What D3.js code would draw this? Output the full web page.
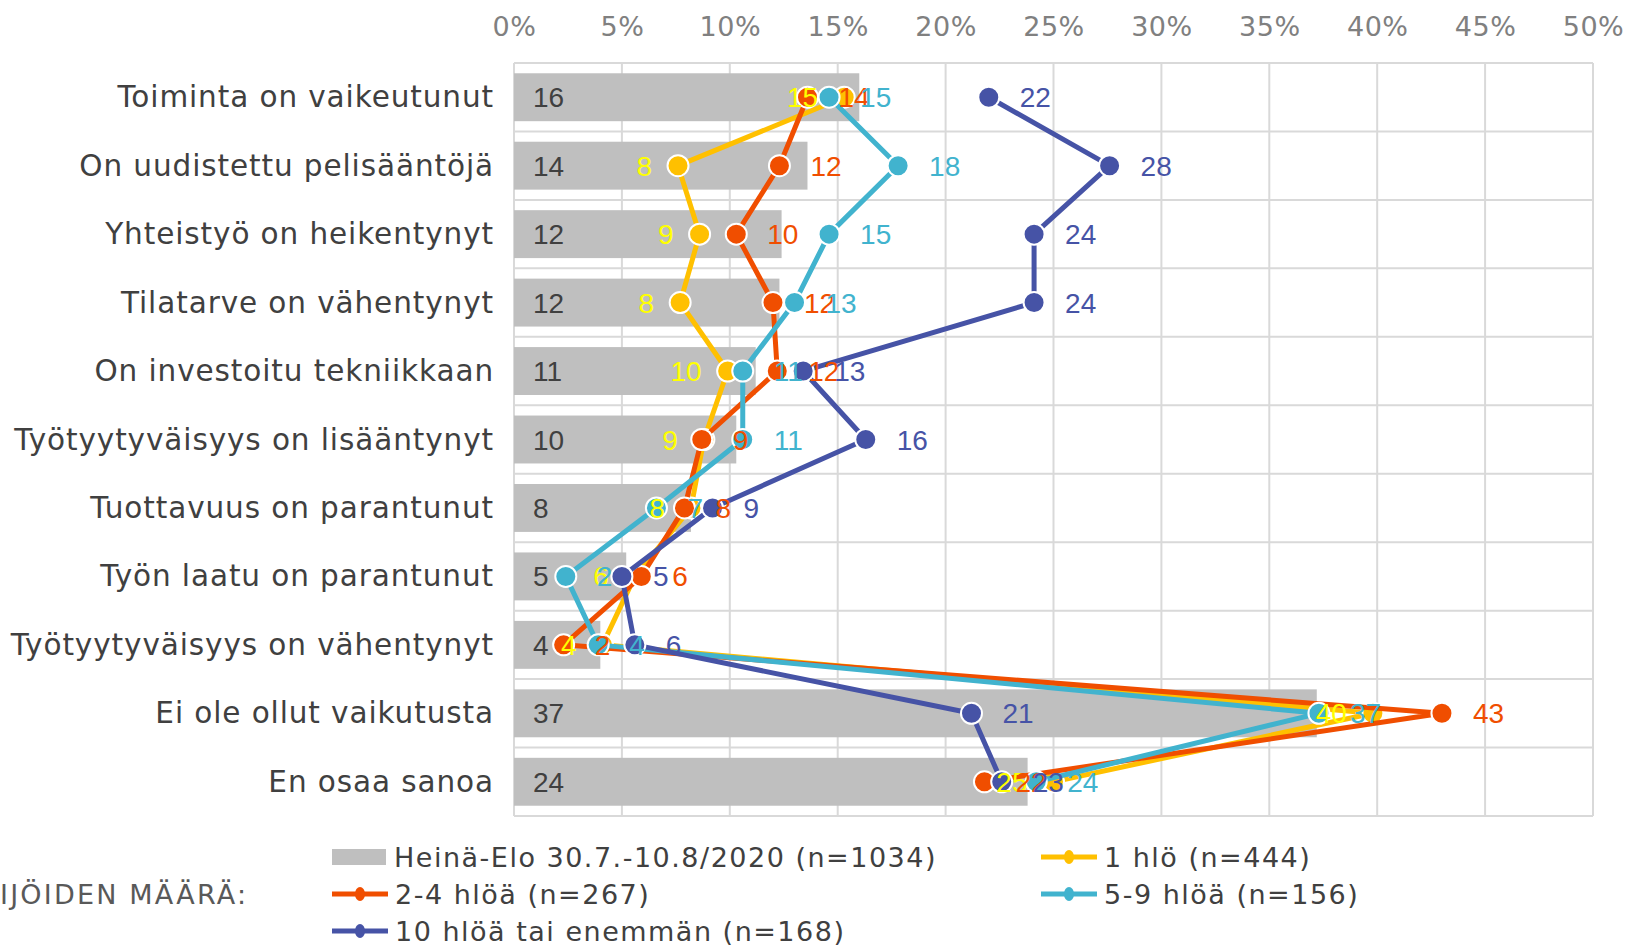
<!DOCTYPE html>
<html><head><meta charset="utf-8">
<script src="https://cdn.jsdelivr.net/npm/d3@7"></script>
<style>
html,body{margin:0;padding:0;background:#fff;overflow:hidden}
svg{display:block}
</style></head>
<body>
<script>
const categories = [
  "Toiminta on vaikeutunut",
  "On uudistettu pelisääntöjä",
  "Yhteistyö on heikentynyt",
  "Tilatarve on vähentynyt",
  "On investoitu tekniikkaan",
  "Työtyytyväisyys on lisääntynyt",
  "Tuottavuus on parantunut",
  "Työn laatu on parantunut",
  "Työtyytyväisyys on vähentynyt",
  "Ei ole ollut vaikutusta",
  "En osaa sanoa"
];
const barValues   = [16.0, 13.6, 12.4, 12.3, 11.2, 10.3, 8.2, 5.2, 4.0, 37.2, 23.8];
const oneValues   = [15.3, 7.6, 8.6, 7.7, 9.9, 8.8, 8.2, 5.6, 4.1, 39.8, 25.0];
const twoValues   = [13.6, 12.3, 10.3, 12.0, 12.2, 8.7, 7.9, 5.9, 2.3, 43.0, 21.8];
const fiveValues  = [14.6, 17.8, 14.6, 13.0, 10.6, 10.6, 6.6, 2.4, 3.9, 37.3, 24.2];
const tenValues   = [22.0, 27.6, 24.1, 24.1, 13.4, 16.3, 9.2, 5.0, 5.6, 21.2, 22.6];
const tickValues  = [0, 5, 10, 15, 20, 25, 30, 35, 40, 45, 50];

const barName = "Heinä-Elo 30.7.-10.8/2020 (n=1034)";
const seriesNames = ["1 hlö (n=444)", "2-4 hlöä (n=267)", "5-9 hlöä (n=156)", "10 hlöä tai enemmän (n=168)"];
const seriesValues = [oneValues, twoValues, fiveValues, tenValues];
const seriesColors = ["#FFC000", "#F04E00", "#41B3CE", "#4653A6"];
const labelColors  = ["#FFFF00", "#F04E00", "#41B3CE", "#4653A6"];
const labelLeft    = [true, false, false, false];

const W = 1627, H = 947;
const svg = d3.select("body").append("svg").attr("width", W).attr("height", H);

const x = d3.scaleLinear().domain([0, 50]).range([514, 1593]);
const y = d3.scaleBand().domain(categories).range([63, 816]).paddingInner(0.3).paddingOuter(0.15);
const cy = c => y(c) + y.bandwidth() / 2;
const step = y.step();

// grid
const grid = svg.append("g");
grid.selectAll("line.v").data(tickValues).join("line")
  .attr("x1", d => x(d)).attr("x2", d => x(d))
  .attr("y1", 63).attr("y2", 816)
  .attr("stroke", "#D9D9D9").attr("stroke-width", 2);
const hLines = d3.range(categories.length + 1).map(i => 63 + i * step);
grid.selectAll("line.h").data(hLines).join("line")
  .attr("x1", x(0)).attr("x2", x(50))
  .attr("y1", d => d).attr("y2", d => d)
  .attr("stroke", "#D9D9D9").attr("stroke-width", 2);

// top axis labels
const axis = d3.axisTop(x).tickValues(tickValues).tickFormat(d => d + "%").tickSize(0).tickPadding(27);
const ag = svg.append("g").attr("transform", "translate(0,63)").call(axis);
ag.select(".domain").remove();
ag.selectAll("text").attr("fill", "#808080").attr("font-family", "DejaVu Sans").attr("font-size", 27)
  .attr("letter-spacing", 0.5);

// category labels
svg.append("g").selectAll("text").data(categories).join("text")
  .attr("x", 494).attr("y", d => cy(d) + 10)
  .attr("text-anchor", "end")
  .attr("font-family", "DejaVu Sans").attr("font-size", 29.5).attr("letter-spacing", 0.9)
  .attr("fill", "#404040")
  .text(d => d);

// bars
svg.append("g").selectAll("rect").data(categories).join("rect")
  .attr("x", x(0)).attr("y", d => y(d))
  .attr("width", (d, i) => x(barValues[i]) - x(0))
  .attr("height", y.bandwidth())
  .attr("fill", "#BFBFBF");
svg.append("g").selectAll("text").data(categories).join("text")
  .attr("x", x(0) + 19).attr("y", d => cy(d) + 10)
  .attr("font-family", "Liberation Sans, Arial").attr("font-size", 28).attr("fill", "#404040")
  .text((d, i) => Math.round(barValues[i]));

// lines & markers
const line = d3.line().x(d => x(d.v)).y(d => cy(d.c));
seriesValues.forEach((vals, s) => {
  const pts = categories.map((c, i) => ({c, v: vals[i]}));
  const g = svg.append("g");
  g.append("path").datum(pts).attr("d", line)
    .attr("fill", "none").attr("stroke", seriesColors[s]).attr("stroke-width", 5)
    .attr("stroke-linejoin", "round");
  g.selectAll("circle").data(pts).join("circle")
    .attr("cx", d => x(d.v)).attr("cy", d => cy(d.c)).attr("r", 10.5)
    .attr("fill", seriesColors[s]).attr("stroke", "#fff").attr("stroke-width", 2);
});
// data labels
seriesValues.forEach((vals, s) => {
  const pts = categories.map((c, i) => ({c, v: vals[i]}));
  svg.append("g").selectAll("text").data(pts).join("text")
    .attr("x", d => labelLeft[s] ? x(d.v) - 26 : x(d.v) + 31)
    .attr("y", d => cy(d.c) + 10)
    .attr("text-anchor", labelLeft[s] ? "end" : "start")
    .attr("font-family", "Liberation Sans, Arial").attr("font-size", 28)
    .attr("fill", labelColors[s])
    .text(d => Math.round(d.v));
});

// legend
const lg = svg.append("g").attr("font-family", "DejaVu Sans").attr("font-size", 27)
  .attr("letter-spacing", 1.5).attr("fill", "#404040");
lg.append("text").attr("x", 0).attr("y", 904).attr("fill", "#595959").attr("letter-spacing", 2.2).text("IJÖIDEN MÄÄRÄ:");
lg.append("rect").attr("x", 332).attr("y", 849).attr("width", 54).attr("height", 16).attr("fill", "#BFBFBF");
lg.append("text").attr("x", 394).attr("y", 867).text(barName);
const legPos = [[1041, 857], [332, 894], [1041, 894], [332, 931]];
seriesNames.forEach((n, s) => {
  const [lx, ly] = legPos[s];
  lg.append("line").attr("x1", lx).attr("x2", lx + 56).attr("y1", ly).attr("y2", ly)
    .attr("stroke", seriesColors[s]).attr("stroke-width", 5);
  lg.append("ellipse").attr("cx", lx + 28).attr("cy", ly).attr("rx", 5).attr("ry", 7)
    .attr("fill", seriesColors[s]);
  lg.append("text").attr("x", lx + 63).attr("y", ly + 10).text(n);
});
</script>
</body></html>
